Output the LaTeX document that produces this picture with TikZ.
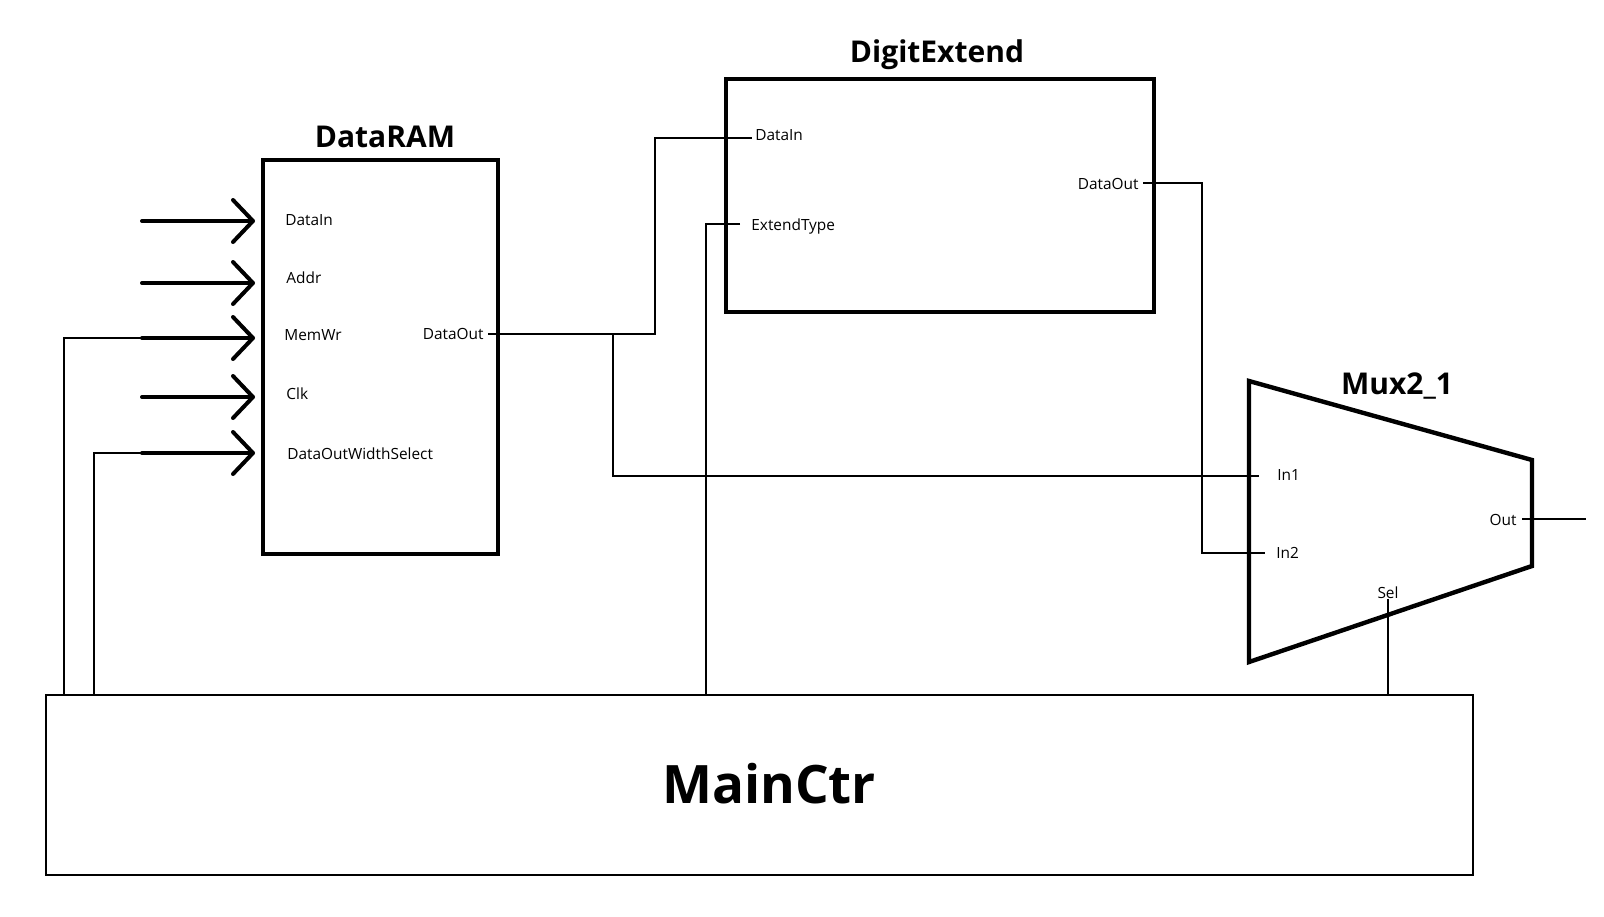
\documentclass[tikz,border=0pt]{standalone}
\usepackage{fontspec}
\setmainfont{Open Sans}
\begin{document}
\begin{tikzpicture}[x=0.5pt,y=-0.5pt,
  box/.style={draw,line width=2pt,inner sep=0,outer sep=0},
  wire/.style={line width=0.6pt},
  port/.style={font=\fontsize{7.7}{9}\selectfont,inner sep=0},
  ttl/.style={font=\bfseries\fontsize{15}{18}\selectfont,inner sep=0,anchor=base},
  inarrow/.style={line width=2pt,line cap=round,line join=round}]
\useasboundingbox (0,0) rectangle (1604,916);
% blocks
\node[box,minimum width=117.5pt,minimum height=197pt] (ram) at (380.5,357) {};
\node[box,minimum width=214pt,minimum height=116.5pt] (de) at (940,195.5) {};
\node[draw,line width=0.8pt,inner sep=0,outer sep=0,minimum width=713.5pt,minimum height=90pt] (main) at (759.5,785) {};
\coordinate (mA) at (1249,381);
\coordinate (mB) at (1532,460);
\coordinate (mC) at (1532,566);
\coordinate (mD) at (1249,662);
\draw[line width=2.2pt,line join=miter] (mA)--(mB)--(mC)--(mD)--cycle;
% titles
\node[ttl] (ramT) at (385,147) {DataRAM};
\node[ttl] (deT) at (937,62) {DigitExtend};
\node[ttl] (muxT) at (1397,394) {Mux2\_1};
\node[inner sep=0,anchor=base,font=\bfseries\fontsize{26.5}{30}\selectfont] (mainT) at (769,803) {MainCtr};
% DataRAM ports
\node[port,anchor=base west] (rDataIn) at (285,225) {DataIn};
\node[port,anchor=base west] (rAddr) at (286,283) {Addr};
\node[port,anchor=base west] (rMemWr) at (284,340) {MemWr};
\node[port,anchor=base west] (rClk) at (286,399) {Clk};
\node[port,anchor=base west] (rSel) at (287,459) {DataOutWidthSelect};
\node[port,anchor=base east] (rOut) at (484,339) {DataOut};
% DigitExtend ports
\node[port,anchor=base west] (dIn) at (755,140) {DataIn};
\node[port,anchor=base west] (dType) at (751,230) {ExtendType};
\node[port,anchor=base east] (dOut) at (1139,189) {DataOut};
% Mux ports
\node[port,anchor=base west] (mIn1) at (1277,480) {In1};
\node[port,anchor=base west] (mIn2) at (1276,558) {In2};
\node[port,anchor=base east] (mOut) at (1517,525) {Out};
\node[port,anchor=base] (mSel) at (1388,598) {Sel};
% input arrows
\foreach \y [count=\i] in {221,283,338,397,453}{
  \coordinate (a\i) at (142,\y);
  \coordinate (t\i) at (253,\y);
  \draw[inarrow] (a\i) -- (t\i);
  \draw[inarrow] (t\i) ++(-20,-21) -- (t\i) -- ++(-20,21);
}
% wire end points
\coordinate (ramout) at (488,334);
\coordinate (j1) at (655,334);
\coordinate (j2) at (613,334);
\coordinate (deIn) at (752,138);
\coordinate (deType) at (740,224);
\coordinate (deOut) at (1143,183);
\coordinate (k) at (1202,183);
\coordinate (muxIn1) at (1259,476);
\coordinate (muxIn2) at (1265,553);
\coordinate (muxOut) at (1522,519);
\coordinate (outEnd) at (1586,519);
\coordinate (muxSel) at (1388,599);
\coordinate (m1) at (64,695);
\coordinate (m2) at (94,695);
\coordinate (m3) at (706,695);
\coordinate (m4) at (1388,695);
% wires
\draw[wire] (ramout) -- (j1) |- (deIn);
\draw[wire] (j2) |- (muxIn1);
\draw[wire] (deOut) -- (k) |- (muxIn2);
\draw[wire] (deType) -| (m3);
\draw[wire] (a3) -| (m1);
\draw[wire] (a5) -| (m2);
\draw[wire] (muxSel) -- (m4);
\draw[wire] (muxOut) -- (outEnd);
\end{tikzpicture}
\end{document}
